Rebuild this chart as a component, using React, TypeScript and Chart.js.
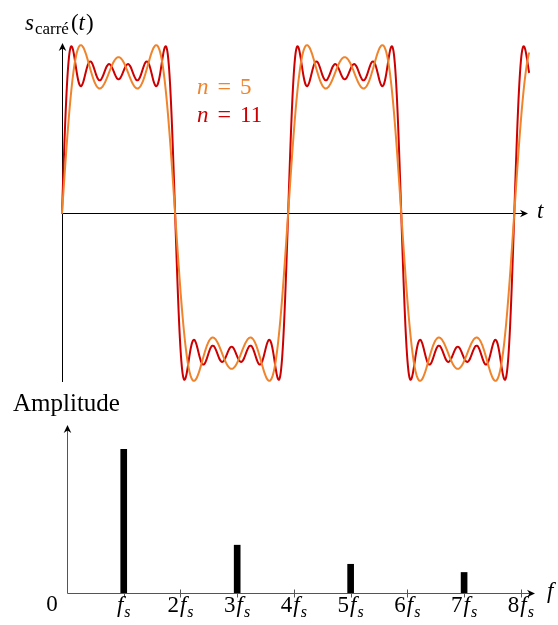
import React, { useEffect, useRef } from "react";
import { Chart, registerables } from "chart.js";

Chart.register(...registerables);

// ---- data ----
// Fourier partial sums of the square wave (time in units of half a period)
const harmonicsN5 = [1, 3, 5];
const amplitudesN5 = [1, 0.3333, 0.2];
const harmonicsN11 = [1, 3, 5, 7, 9, 11];
const amplitudesN11 = [1, 0.3333, 0.2, 0.1429, 0.1111, 0.0909];
const timeStart = 0;
const timeEnd = 4.13;
const timeStep = 0.005;
const signalMin = -0.94;
const signalMax = 0.94;

const seriesLabels = ["n = 5", "n = 11"];
const seriesColors = ["#f0842c", "#cc0000"];

// Spectrum (amplitude vs multiple of f_s)
const spectrumFreq = [1, 3, 5, 7];
const spectrumAmp = [1, 0.333, 0.2, 0.143];
const freqTicks = [1, 2, 3, 4, 5, 6, 7, 8];
const freqMax = 8.25;
const ampMax = 1.17;

const SERIF = "'Liberation Serif', 'Times New Roman', serif";

type Run = { t: string; font: string; gap?: number; dy?: number };

function drawRuns(ctx: CanvasRenderingContext2D, x: number, y: number, runs: Run[], align: "left" | "center" = "left") {
  const widths = runs.map((r) => {
    ctx.font = r.font;
    return ctx.measureText(r.t).width;
  });
  const total = widths.reduce((a, b) => a + b, 0) + runs.reduce((a, r) => a + (r.gap || 0), 0);
  let cx = align === "center" ? x - total / 2 : x;
  ctx.textAlign = "left";
  ctx.textBaseline = "alphabetic";
  runs.forEach((r, i) => {
    cx += r.gap || 0;
    ctx.font = r.font;
    ctx.fillText(r.t, cx, y + (r.dy || 0));
    cx += widths[i];
  });
}

function drawArrow(ctx: CanvasRenderingContext2D, tx: number, ty: number, angle: number, color: string) {
  ctx.save();
  ctx.translate(tx, ty);
  ctx.rotate(angle);
  ctx.fillStyle = color;
  ctx.beginPath();
  ctx.moveTo(0, 0);
  ctx.lineTo(-8, -3.8);
  ctx.lineTo(-5.5, 0);
  ctx.lineTo(-8, 3.8);
  ctx.closePath();
  ctx.fill();
  ctx.restore();
}

function buildSeries(harmonics: number[], amps: number[]) {
  const pts: { x: number; y: number }[] = [];
  const n = Math.round((timeEnd - timeStart) / timeStep);
  for (let i = 0; i <= n; i++) {
    const t = timeStart + i * timeStep;
    let s = 0;
    for (let j = 0; j < harmonics.length; j++) s += amps[j] * Math.sin(harmonics[j] * Math.PI * t);
    pts.push({ x: t, y: s });
  }
  return pts;
}

const it = (px: number) => `italic ${px}px ${SERIF}`;
const up = (px: number) => `${px}px ${SERIF}`;

export default function App() {
  const topRef = useRef<HTMLCanvasElement>(null);
  const botRef = useRef<HTMLCanvasElement>(null);

  useEffect(() => {
    const topAxes = {
      id: "topAxes",
      beforeDatasetsDraw(chart: any) {
        const { ctx } = chart;
        const xs = chart.scales.x;
        const ys = chart.scales.y;
        const x0 = Math.round(xs.getPixelForValue(0)) + 0.5;
        const y0 = Math.round(ys.getPixelForValue(0)) + 0.5;
        const xEnd = xs.getPixelForValue(timeEnd) - 1;
        const yTop = ys.getPixelForValue(signalMax) - 1;
        const yBot = ys.getPixelForValue(signalMin);
        ctx.save();
        ctx.strokeStyle = "#000";
        ctx.lineWidth = 1;
        ctx.beginPath();
        ctx.moveTo(x0, y0);
        ctx.lineTo(xEnd - 5, y0);
        ctx.moveTo(x0, yBot);
        ctx.lineTo(x0, yTop + 5);
        ctx.stroke();
        drawArrow(ctx, xEnd, y0, 0, "#000");
        drawArrow(ctx, x0, yTop, -Math.PI / 2, "#000");
        ctx.restore();
      },
      afterDraw(chart: any) {
        const { ctx } = chart;
        ctx.save();
        ctx.fillStyle = "#000";
        drawRuns(ctx, 25, 30, [
          { t: "s", font: it(23) },
          { t: "carré", font: up(17), gap: 1, dy: 4 },
          { t: "(", font: up(23), gap: 2 },
          { t: "t", font: it(23) },
          { t: ")", font: up(23), gap: 1 },
        ]);
        drawRuns(ctx, 537, 218, [{ t: "t", font: it(23) }]);
        ctx.fillStyle = seriesColors[0];
        drawRuns(ctx, 197, 94, [
          { t: "n", font: it(23) },
          { t: "=", font: up(24), gap: 9 },
          { t: "5", font: up(23), gap: 9 },
        ]);
        ctx.fillStyle = seriesColors[1];
        drawRuns(ctx, 197, 122, [
          { t: "n", font: it(23) },
          { t: "=", font: up(24), gap: 9 },
          { t: "11", font: up(23), gap: 9 },
        ]);
        ctx.restore();
      },
    };

    const lineStyle = {
      borderWidth: 2,
      pointRadius: 0,
      tension: 0.2,
      clip: false,
      borderJoinStyle: "round",
      borderCapStyle: "round",
    };

    const top = new Chart(topRef.current!, {
      type: "line",
      data: {
        datasets: [
          {
            label: seriesLabels[1],
            data: buildSeries(harmonicsN11, amplitudesN11),
            borderColor: seriesColors[1],
            order: 2,
            ...lineStyle,
          },
          {
            label: seriesLabels[0],
            data: buildSeries(harmonicsN5, amplitudesN5),
            borderColor: seriesColors[0],
            order: 1,
            ...lineStyle,
          },
        ],
      },
      options: {
        responsive: false,
        animation: false,
        events: [],
        layout: { padding: { left: 62, right: 29, top: 44, bottom: 243 } },
        plugins: { legend: { display: false }, tooltip: { enabled: false } },
        scales: {
          x: { type: "linear", min: timeStart, max: timeEnd, display: false },
          y: { type: "linear", min: signalMin, max: signalMax, display: false },
        },
      },
      plugins: [topAxes],
    } as any);

    const botAxes = {
      id: "botAxes",
      beforeDatasetsDraw(chart: any) {
        const { ctx } = chart;
        const xs = chart.scales.x;
        const ys = chart.scales.y;
        const x0 = Math.round(xs.getPixelForValue(0)) + 0.5;
        const y0 = Math.round(ys.getPixelForValue(0)) + 0.5;
        const xEnd = xs.getPixelForValue(freqMax);
        const yTop = ys.getPixelForValue(ampMax);
        ctx.save();
        ctx.strokeStyle = "#555";
        ctx.lineWidth = 1;
        ctx.beginPath();
        ctx.moveTo(x0, y0);
        ctx.lineTo(xEnd - 5, y0);
        ctx.moveTo(x0, y0);
        ctx.lineTo(x0, yTop + 5);
        freqTicks.forEach((f) => {
          const px = Math.round(xs.getPixelForValue(f)) + 0.5;
          ctx.moveTo(px, y0 - 4);
          ctx.lineTo(px, y0 + 4);
        });
        ctx.stroke();
        drawArrow(ctx, xEnd, y0, 0, "#000");
        drawArrow(ctx, x0, yTop, -Math.PI / 2, "#000");
        ctx.restore();
      },
      afterDraw(chart: any) {
        const { ctx } = chart;
        const xs = chart.scales.x;
        ctx.save();
        ctx.fillStyle = "#000";
        drawRuns(ctx, 13, 411, [{ t: "Amplitude", font: up(25) }]);
        drawRuns(ctx, 547, 598, [{ t: "f", font: it(23) }]);
        drawRuns(ctx, xs.getPixelForValue(0) - 15, 611, [{ t: "0", font: up(23) }], "center");
        freqTicks.forEach((f) => {
          const runs: Run[] = [];
          if (f > 1) runs.push({ t: String(f), font: up(23) });
          runs.push({ t: "f", font: it(23), gap: f > 1 ? 1 : 0 });
          runs.push({ t: "s", font: it(16), gap: 1, dy: 5 });
          drawRuns(ctx, xs.getPixelForValue(f), 612, runs, "center");
        });
        ctx.restore();
      },
    };

    const bot = new Chart(botRef.current!, {
      type: "bar",
      data: {
        datasets: [
          {
            label: "Amplitude",
            data: spectrumFreq.map((f, i) => ({ x: f, y: spectrumAmp[i] })),
            backgroundColor: "#000",
            borderWidth: 0,
            barThickness: 6,
          },
        ],
      },
      options: {
        responsive: false,
        animation: false,
        events: [],
        layout: { padding: { left: 67, right: 23, top: 425, bottom: 32 } },
        plugins: { legend: { display: false }, tooltip: { enabled: false } },
        scales: {
          x: { type: "linear", min: 0, max: freqMax, offset: false, display: false, grid: { offset: false } },
          y: { type: "linear", min: 0, max: ampMax, display: false },
        },
      },
      plugins: [botAxes],
    } as any);

    return () => {
      top.destroy();
      bot.destroy();
    };
  }, []);

  return (
    <div style={{ position: "absolute", left: 0, top: 0, width: 558, height: 625, background: "#fff" }}>
      <canvas ref={topRef} width={558} height={625} style={{ position: "absolute", left: 0, top: 0 }} />
      <canvas ref={botRef} width={558} height={625} style={{ position: "absolute", left: 0, top: 0 }} />
    </div>
  );
}
